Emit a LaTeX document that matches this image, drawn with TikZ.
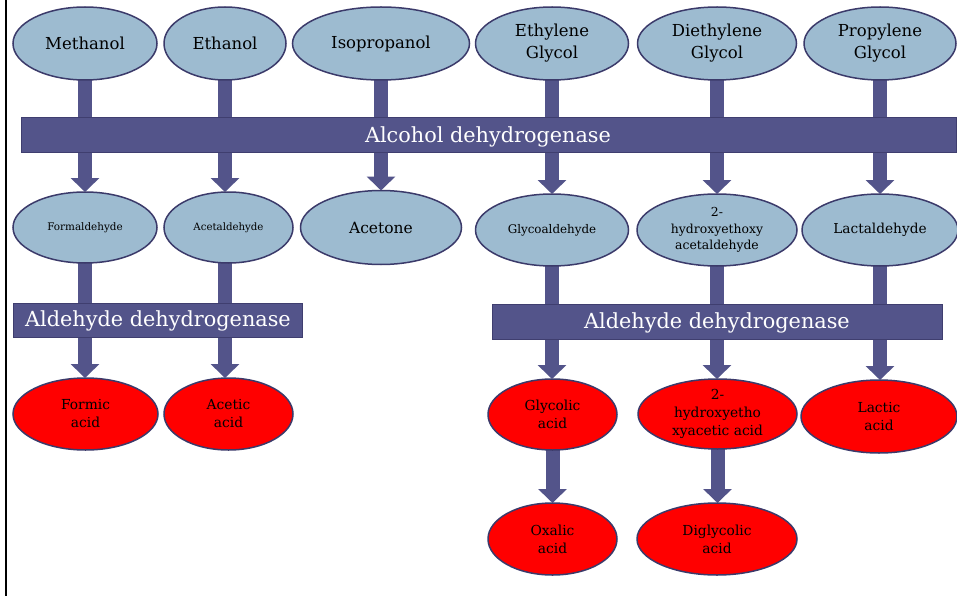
\documentclass[tikz,border=0pt]{standalone}
\usepackage{fontspec}
\setmainfont{DejaVu Serif}
\usetikzlibrary{shapes.geometric,arrows.meta,backgrounds,calc}
\definecolor{ellblue}{HTML}{9DBBD0}
\definecolor{edgenavy}{HTML}{3B3A6A}
\definecolor{barcol}{HTML}{53548A}
\definecolor{redfill}{HTML}{FF0000}
\tikzset{
  blueell/.style={ellipse, draw=edgenavy, line width=1.5pt, fill=ellblue, inner sep=0pt, outer sep=0pt, align=center, text=black},
  redell/.style={ellipse, draw=edgenavy, line width=1.5pt, fill=redfill, inner sep=0pt, outer sep=0pt, align=center, text=black, font=\fontsize{13.8}{18}\selectfont},
  enzbar/.style={rectangle, draw=edgenavy!85!barcol, line width=1pt, fill=barcol, inner sep=0pt, outer sep=0pt, text=white, font=\fontsize{20.8}{24}\selectfont},
  shaft/.style={draw=barcol, line width=14pt},
  headarrow/.style={draw=barcol, line width=14pt, -{Triangle[width=28pt,length=14pt]}},
}
\begin{document}
\begin{tikzpicture}[x=1pt,y=-1pt]
\useasboundingbox (0,0) rectangle (957,596);
\draw[black, line width=2pt] (6,0) -- (6,596);
% top row
\node[blueell, minimum width=144, minimum height=73, font=\fontsize{16.5}{22}\selectfont] (meth) at (85,43.5) {Methanol};
\node[blueell, minimum width=122, minimum height=73, font=\fontsize{16.5}{22}\selectfont] (eth) at (225,43.5) {Ethanol};
\node[blueell, minimum width=177, minimum height=73, font=\fontsize{16.5}{22}\selectfont] (iso) at (381,43.5) {Isopropanol};
\node[blueell, minimum width=153, minimum height=73, font=\fontsize{16.5}{22}\selectfont] (eg) at (552,43.5) {Ethylene\\Glycol};
\node[blueell, minimum width=159, minimum height=73, font=\fontsize{16.5}{22}\selectfont] (deg) at (717,43.5) {Diethylene\\Glycol};
\node[blueell, minimum width=152, minimum height=73, font=\fontsize{16.5}{22}\selectfont] (pg) at (880,43.5) {Propylene\\Glycol};
% alcohol bar
\node[enzbar, minimum width=935, minimum height=35] (adh) at (488.5,135.5) {};
\node[text=white, font=\fontsize{20.8}{24}\selectfont, inner sep=0pt] (adhtext) at (488,136.5) {Alcohol dehydrogenase};
% second row
\node[blueell, minimum width=144, minimum height=71, font=\fontsize{10.4}{13}\selectfont] (form) at (85,227.5) {Formaldehyde};
\node[blueell, minimum width=129, minimum height=71, font=\fontsize{10.2}{13}\selectfont] (acet) at (228.5,227.5) {Acetaldehyde};
\node[blueell, minimum width=161, minimum height=74, font=\fontsize{15.5}{20}\selectfont] (acetone) at (381,227.5) {Acetone};
\node[blueell, minimum width=153, minimum height=72, font=\fontsize{11.9}{15}\selectfont] (glyald) at (552,230) {Glycoaldehyde};
\node[blueell, minimum width=160, minimum height=72, font=\fontsize{12.4}{16.5}\selectfont] (hea) at (717,230) {2-\\hydroxyethoxy\\acetaldehyde};
\node[blueell, minimum width=156, minimum height=72, font=\fontsize{13.7}{17}\selectfont] (lact) at (880,230) {Lactaldehyde};
% aldehyde bars
\node[enzbar, minimum width=289, minimum height=34] (aldl) at (157.5,320) {};
\node[text=white, font=\fontsize{20.8}{24}\selectfont, inner sep=0pt] (aldltext) at (158,321) {Aldehyde dehydrogenase};
\node[enzbar, minimum width=450, minimum height=35] (aldr) at (717,321.5) {};
\node[text=white, font=\fontsize{20.8}{24}\selectfont, inner sep=0pt] (aldrtext) at (717,322.5) {Aldehyde dehydrogenase};
% third row
\node[redell, minimum width=145, minimum height=72] (formic) at (85.5,414) {Formic\\acid};
\node[redell, minimum width=129, minimum height=72] (acetic) at (228.5,414) {Acetic\\acid};
\node[redell, minimum width=129, minimum height=71] (glycolic) at (552.5,414.5) {Glycolic\\acid};
\node[redell, minimum width=159, minimum height=70] (heaa) at (717.5,414) {2-\\hydroxyetho\\xyacetic acid};
\node[redell, minimum width=156, minimum height=73] (lactic) at (879,416.5) {Lactic\\acid};
% fourth row
\node[redell, minimum width=129, minimum height=72] (oxalic) at (552.5,539) {Oxalic\\acid};
\node[redell, minimum width=160, minimum height=72] (digly) at (717,539) {Diglycolic\\acid};
% connectors
\begin{scope}[on background layer]
  \fill[white] (0,0) rectangle (957,596);
  \foreach \a/\b in {meth/form, eth/acet, iso/acetone, eg/glyald, deg/hea, pg/lact}{
    \draw[shaft] ($(\a.south)+(0,-4)$) -- (\a.south |- adh.north);
    \draw[headarrow] (\a.south |- adh.south) -- (\a.south |- \b.north);
  }
  \foreach \c/\a/\b in {meth/form/formic, eth/acet/acetic}{
    \draw[shaft] ($(\c.south |- \a.south)+(0,-4)$) -- (\c.south |- aldl.north);
    \draw[headarrow] (\c.south |- aldl.south) -- (\c.south |- \b.north);
  }
  \foreach \a/\b in {glyald/glycolic, hea/heaa, lact/lactic}{
    \draw[shaft] ($(\a.south)+(0,-4)$) -- (\a.south |- aldr.north);
    \draw[headarrow] (\a.south |- aldr.south) -- (\a.south |- \b.north);
  }
  \draw[headarrow] ($(glycolic.south)+(0,-4)$) -- (glycolic.south |- oxalic.north);
  \draw[headarrow] ($(heaa.south)+(0,-4)$) -- (heaa.south |- digly.north);
\end{scope}
\end{tikzpicture}
\end{document}
